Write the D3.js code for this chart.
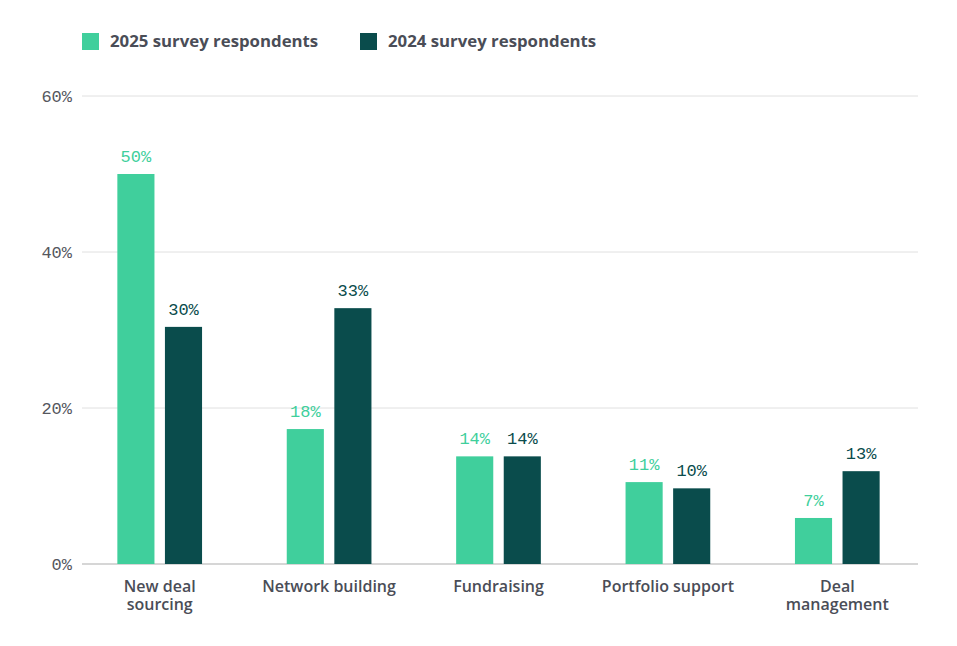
<!DOCTYPE html>
<html>
  <head>
    <meta charset="utf-8">
    <title>Survey respondents by activity</title>
    <script src="https://d3js.org/d3.v7.min.js"></script>
    <style>
      body { margin: 0; background: #fff; }
      .sans { font-family: "Open Sans", "Noto Sans", sans-serif; }
      .mono { font-family: "Liberation Mono", "DejaVu Sans Mono", monospace; }
    </style>
  </head>
  <body>
    <div id="chart"></div>
    <script>
      // data
      var categories = [["New deal", "sourcing"], ["Network building"], ["Fundraising"], ["Portfolio support"], ["Deal", "management"]];
      var series = ["2025 survey respondents", "2024 survey respondents"];
      var values2025 = [50, 17.3, 13.8, 10.5, 5.9];
      var values2024 = [30.4, 32.8, 13.8, 9.7, 11.9];
      var labels2025 = ["50%", "18%", "14%", "11%", "7%"];
      var labels2024 = ["30%", "33%", "14%", "10%", "13%"];
      var yTicks = [0, 20, 40, 60];
      var colors = ["#40cf9c", "#0a4c4c"];

      var width = 957, height = 646;

      var svg = d3.select("#chart").append("svg")
        .attr("width", width)
        .attr("height", height);

      var y = d3.scaleLinear().domain([0, 60]).range([564, 96]);

      var x0 = d3.scaleBand()
        .domain(d3.range(categories.length))
        .range([75, 922])
        .paddingInner(0.5)
        .paddingOuter(0.25);

      var x1 = d3.scaleBand()
        .domain([0, 1])
        .range([0, x0.bandwidth()])
        .paddingInner(0.22);

      // grid + y labels
      var grid = svg.append("g");
      grid.selectAll("line")
        .data(yTicks)
        .enter().append("line")
        .attr("x1", 82).attr("x2", 918)
        .attr("y1", d => y(d)).attr("y2", d => y(d))
        .attr("stroke", d => d === 0 ? "#d6d6d6" : "#e0e0e0")
        .attr("stroke-width", d => d === 0 ? 2 : 1);

      grid.selectAll("text")
        .data(yTicks)
        .enter().append("text")
        .attr("class", "mono")
        .attr("x", 72)
        .attr("y", d => y(d) + 6)
        .attr("text-anchor", "end")
        .attr("font-size", 17)
        .attr("fill", "#55575e")
        .text(d => d + "%");

      var rows = categories.map(function(c, i) {
        return [
          { s: 0, i: i, v: values2025[i], label: labels2025[i] },
          { s: 1, i: i, v: values2024[i], label: labels2024[i] }
        ];
      });

      var groups = svg.selectAll(".grp")
        .data(rows)
        .enter().append("g")
        .attr("class", "grp")
        .attr("transform", (d, i) => "translate(" + x0(i) + ",0)");

      groups.selectAll("rect")
        .data(d => d)
        .enter().append("rect")
        .attr("x", d => x1(d.s))
        .attr("width", x1.bandwidth())
        .attr("y", d => y(d.v))
        .attr("height", d => y(0) - y(d.v))
        .attr("fill", d => colors[d.s]);

      groups.selectAll("text.val")
        .data(d => d)
        .enter().append("text")
        .attr("class", "val mono")
        .attr("x", d => x1(d.s) + x1.bandwidth() / 2)
        .attr("y", d => y(d.v) - 12)
        .attr("text-anchor", "middle")
        .attr("font-size", 17)
        .attr("fill", d => colors[d.s])
        .text(d => d.label);

      // x labels, one text per line
      categories.forEach(function(lines, i) {
        svg.selectAll(".xlab" + i)
          .data(lines)
          .enter().append("text")
          .attr("class", "xlab" + i + " sans")
          .attr("x", x0(i) + x0.bandwidth() / 2)
          .attr("y", (d, j) => 592 + j * 18)
          .attr("text-anchor", "middle")
          .attr("font-size", 16)
          .attr("font-weight", 600)
          .attr("fill", "#4a4d57")
          .text(d => d);
      });

      // legend
      var legX = [82, 360];
      var leg = svg.selectAll(".leg")
        .data(series)
        .enter().append("g")
        .attr("class", "leg")
        .attr("transform", (d, i) => "translate(" + legX[i] + ",33)");
      leg.append("rect")
        .attr("width", 17).attr("height", 17)
        .attr("fill", (d, i) => colors[i]);
      leg.append("text")
        .attr("class", "sans")
        .attr("x", 28)
        .attr("y", 14)
        .attr("font-size", 16.8)
        .attr("font-weight", 700)
        .attr("fill", "#4a4d57")
        .text(d => d);
    </script>
  </body>
</html>
